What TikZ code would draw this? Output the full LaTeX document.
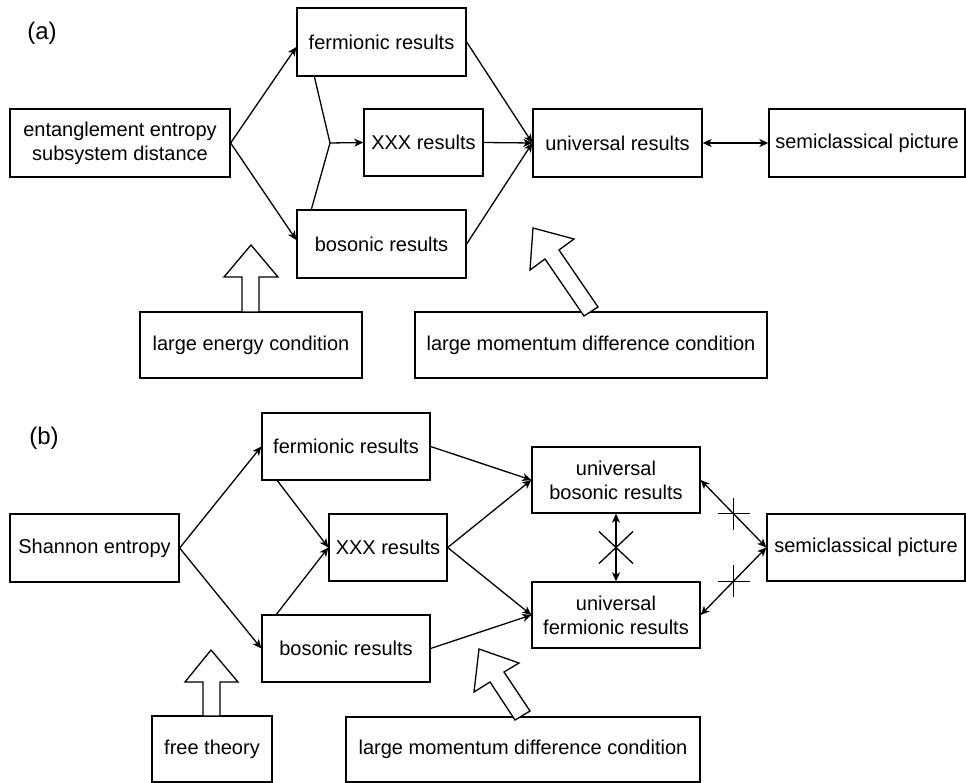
\documentclass[tikz,border=0pt]{standalone}
\usepackage{fontspec}
\setmainfont{Liberation Sans}
\usetikzlibrary{arrows.meta,calc}
\tikzset{
  bx/.style={draw, line width=1.3pt, inner sep=0pt, align=center,
    font=\fontsize{20}{24}\selectfont},
  lnk/.style={line width=1.3pt},
  con/.style={line width=1.3pt, -{Stealth[length=9pt,width=8pt,inset=2.5pt]}},
  dcon/.style={line width=1.3pt, {Stealth[length=9pt,width=8pt,inset=2.5pt]}-{Stealth[length=9pt,width=8pt,inset=2.5pt]}},
  fat/.style={draw, line width=1.3pt, fill=white, line join=miter},
  lbl/.style={inner sep=0pt, font=\fontsize{24}{28}\selectfont}
}
\begin{document}
\begin{tikzpicture}[x=1pt,y=-1pt]
\useasboundingbox (0,0) rectangle (966,783);
% ---------- (a) ----------
\node[lbl] (la) at (42,33) {(a)};
\node[bx, minimum width=220pt, minimum height=68pt] (ent) at (120,143) {entanglement entropy\\subsystem distance};
\node[bx, minimum width=169pt, minimum height=68pt] (fa) at (381.5,42) {fermionic results};
\node[bx, minimum width=119pt, minimum height=67pt] (xa) at (423.5,142.5) {XXX results};
\node[bx, minimum width=169pt, minimum height=68pt] (ba) at (381.5,244) {bosonic results};
\node[bx, minimum width=169pt, minimum height=68pt] (ua) at (617.5,143) {universal results};
\node[bx, minimum width=196pt, minimum height=68pt] (sa) at (867,143) {semiclassical picture};
\node[bx, minimum width=222pt, minimum height=66pt] (lea) at (251,345) {large energy condition};
\node[bx, minimum width=352pt, minimum height=66pt] (lma) at (591,345) {large momentum difference condition};
\coordinate (ja) at (330,143);
\draw[con] (ent.east) -- ($(fa.west)+(0,5)$);
\draw[con] (ent.east) -- ($(ba.west)+(0,-4)$);
\draw[lnk] ($(fa.south west)+(18,0)$) -- (ja);
\draw[lnk] ($(ba.north west)+(15,0)$) -- (ja);
\draw[con] (ja) -- (xa.west);
\draw[con] (fa.east) -- (ua.west);
\draw[con] (xa.east) -- (ua.west);
\draw[con] (ba.east) -- (ua.west);
\draw[dcon] (ua.east) -- (sa.west);
% hollow arrows (a)
\draw[fat] (242,312) -- (242,277) -- (224,277) -- (251,245) -- (278,277) -- (259,277) -- (259,312) -- cycle;
\draw[fat] (533,228) -- (574,239) -- (559,250) -- (598,307) -- (584,316) -- (545,259) -- (530,270) -- cycle;
% ---------- (b) ----------
\node[lbl] (lb) at (44,438) {(b)};
\node[bx, minimum width=169pt, minimum height=68pt] (sh) at (94.5,548) {Shannon entropy};
\node[bx, minimum width=168pt, minimum height=67pt] (fb) at (346,446.5) {fermionic results};
\node[bx, minimum width=118pt, minimum height=67pt] (xb) at (388,547.5) {XXX results};
\node[bx, minimum width=168pt, minimum height=67pt] (bb) at (346,648.5) {bosonic results};
\node[bx, minimum width=168pt, minimum height=66pt] (ubb) at (616,480) {universal\\bosonic results};
\node[bx, minimum width=168pt, minimum height=66pt] (ufb) at (616,615) {universal\\fermionic results};
\node[bx, minimum width=198pt, minimum height=67pt] (sb) at (866,547.5) {semiclassical picture};
\node[bx, minimum width=120pt, minimum height=66pt] (ft) at (212,749) {free theory};
\node[bx, minimum width=354pt, minimum height=65pt] (lmb) at (523,749.5) {large momentum difference condition};
\draw[con] (sh.east) -- (fb.west);
\draw[con] (sh.east) -- (bb.west);
\draw[con] ($(fb.south west)+(16,0)$) -- (xb.west);
\draw[con] ($(bb.north west)+(15,0)$) -- (xb.west);
\draw[con] (fb.east) -- (ubb.west);
\draw[con] (xb.east) -- (ubb.west);
\draw[con] (xb.east) -- (ufb.west);
\draw[con] (bb.east) -- (ufb.west);
\draw[dcon] (ubb.south) -- coordinate[pos=0.5] (mx) (ufb.north);
\draw[lnk] ($(mx)+(-17,-16)$) -- ($(mx)+(17,16)$);
\draw[lnk] ($(mx)+(-17,16)$) -- ($(mx)+(17,-16)$);
\draw[dcon] (ubb.east) -- coordinate[pos=0.5] (m1) (sb.west);
\draw[dcon] (ufb.east) -- coordinate[pos=0.5] (m2) (sb.west);
\draw[lnk] ($(m1)+(-16,0)$) -- ($(m1)+(16,0)$);
\draw[lnk] ($(m1)+(0,-16)$) -- ($(m1)+(0,16)$);
\draw[lnk] ($(m2)+(-16,0)$) -- ($(m2)+(16,0)$);
\draw[lnk] ($(m2)+(0,-16)$) -- ($(m2)+(0,16)$);
% hollow arrows (b)
\draw[fat] (203,716) -- (203,682) -- (185,682) -- (211,650) -- (238,682) -- (220,682) -- (220,716) -- cycle;
\draw[fat] (479,649) -- (519,663) -- (504,672) -- (530,711) -- (515,720) -- (490,682) -- (474,692) -- cycle;
\end{tikzpicture}
\end{document}
